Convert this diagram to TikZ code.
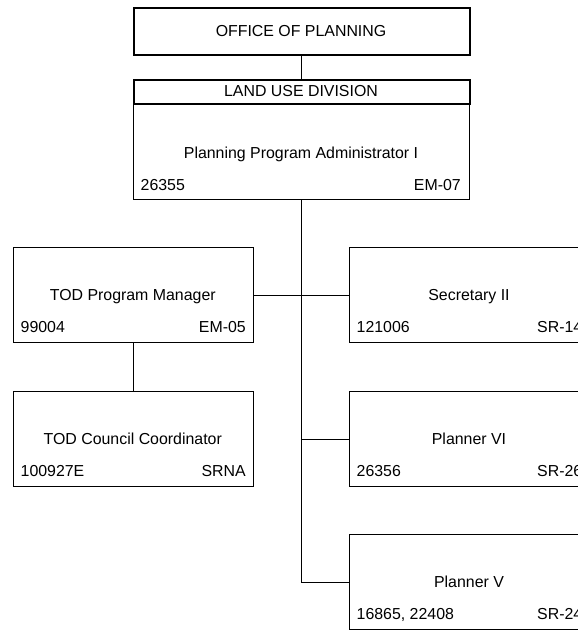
\documentclass[tikz,border=0pt]{standalone}
\usepackage{fontspec}
\setmainfont{Liberation Sans}
\begin{document}
\begin{tikzpicture}[x=1bp,y=-1bp,
  lbl/.style={font=\fontsize{15.9bp}{19bp}\selectfont, inner sep=0pt, text=black},
  orgbox/.style={draw=black, line width=0.8bp, anchor=north west, inner sep=0pt},
  headbox/.style={orgbox, line width=1.6bp},
  stdbox/.style={orgbox, minimum width=239.5bp, minimum height=95bp},
  conn/.style={draw=black, line width=0.8bp}]
\useasboundingbox (0,0) rectangle (578,631);
\clip (0,0) rectangle (578,631);
% boxes
\node[headbox, minimum width=336bp, minimum height=47bp] (office) at (133,7) {};
\node[orgbox, minimum width=336bp, minimum height=96bp] (ppa) at (133,103) {};
\node[headbox, minimum width=336bp, minimum height=24bp] (lud) at (133,79) {};
\node[stdbox] (tpm) at (13,247) {};
\node[stdbox] (tcc) at (13,391) {};
\node[stdbox] (sec) at (349,247) {};
\node[stdbox] (pvi) at (349,391) {};
\node[stdbox] (pv) at (349,534) {};
% connectors
\draw[conn] (office.south) -- (lud.north);
\draw[conn] (ppa.south) |- (tpm.east);
\draw[conn] (ppa.south) |- (sec.west);
\draw[conn] (ppa.south) |- (pvi.west);
\draw[conn] (ppa.south) |- (pv.west);
\draw[conn] (tpm.south) -- (tcc.north);
% texts
\node[lbl, anchor=base] (officeT) at (301,36.5) {OFFICE OF PLANNING};
\node[lbl, anchor=base] (ludT) at (301,96.5) {LAND USE DIVISION};
\node[lbl, anchor=base] (ppaT) at (301,158.5) {Planning Program Administrator I};
\node[lbl, anchor=base west] (ppaN) at (140.5,190) {26355};
\node[lbl, anchor=base east] (ppaG) at (461,190) {EM-07};
\node[lbl, anchor=base] (tpmT) at (132.75,300.5) {TOD Program Manager};
\node[lbl, anchor=base west] (tpmN) at (20.5,332) {99004};
\node[lbl, anchor=base east] (tpmG) at (246,332) {EM-05};
\node[lbl, anchor=base] (tccT) at (132.75,444.5) {TOD Council Coordinator};
\node[lbl, anchor=base west] (tccN) at (20.5,476) {100927E};
\node[lbl, anchor=base east] (tccG) at (246,476) {SRNA};
\node[lbl, anchor=base] (secT) at (469,300.5) {Secretary II};
\node[lbl, anchor=base west] (secN) at (356.5,332) {121006};
\node[lbl, anchor=base east] (secG) at (582.5,332) {SR-14};
\node[lbl, anchor=base] (pviT) at (469,444.5) {Planner VI};
\node[lbl, anchor=base west] (pviN) at (356.5,476) {26356};
\node[lbl, anchor=base east] (pviG) at (582.5,476) {SR-26};
\node[lbl, anchor=base] (pvT) at (469,587.5) {Planner V};
\node[lbl, anchor=base west] (pvN) at (356.5,619) {16865, 22408};
\node[lbl, anchor=base east] (pvG) at (582.5,619) {SR-24};
\end{tikzpicture}
\end{document}
